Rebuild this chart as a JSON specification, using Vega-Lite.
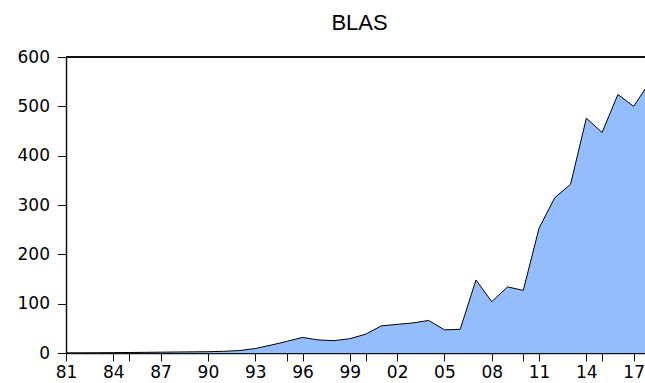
{
  "$schema": "https://vega.github.io/schema/vega-lite/v6.json",
  "autosize": {"type": "none"},
  "padding": {"left": 66, "top": 57, "right": 0, "bottom": 30},
  "width": 579,
  "height": 296,
  "background": "white",
  "title": {"text": "BLAS", "font": "Liberation Sans", "fontSize": 22, "fontWeight": "normal", "color": "black", "offset": 13, "dx": 4},
  "data": {"values": [
    {"year": 1981, "v": 0.2}, {"year": 1982, "v": 0.3}, {"year": 1983, "v": 0.5}, {"year": 1984, "v": 0.7},
    {"year": 1985, "v": 1.0}, {"year": 1986, "v": 1.3}, {"year": 1987, "v": 1.7}, {"year": 1988, "v": 2.0},
    {"year": 1989, "v": 2.3}, {"year": 1990, "v": 2.6}, {"year": 1991, "v": 3.4}, {"year": 1992, "v": 5},
    {"year": 1993, "v": 9}, {"year": 1994, "v": 16}, {"year": 1995, "v": 23.5}, {"year": 1996, "v": 31.6},
    {"year": 1997, "v": 26.5}, {"year": 1998, "v": 25}, {"year": 1999, "v": 29}, {"year": 2000, "v": 38},
    {"year": 2001, "v": 55}, {"year": 2002, "v": 58}, {"year": 2003, "v": 61}, {"year": 2004, "v": 66},
    {"year": 2005, "v": 47}, {"year": 2006, "v": 48}, {"year": 2007, "v": 148}, {"year": 2008, "v": 104},
    {"year": 2009, "v": 134}, {"year": 2010, "v": 127}, {"year": 2011, "v": 253}, {"year": 2012, "v": 315},
    {"year": 2013, "v": 342}, {"year": 2014, "v": 476}, {"year": 2015, "v": 447}, {"year": 2016, "v": 524},
    {"year": 2017, "v": 500}, {"year": 2018, "v": 548}
  ]},
  "encoding": {
    "x": {"field": "year", "type": "quantitative",
      "scale": {"domain": [1981, 2017.72], "nice": false, "zero": false},
      "axis": {"title": null, "grid": false,
        "values": [1981, 1984, 1985, 1987, 1990, 1993, 1995, 1996, 1999, 2000, 2002, 2005, 2008, 2010, 2011, 2014, 2015, 2017],
        "labelExpr": "(datum.value - 1981) % 3 == 0 ? substring(toString(datum.value), 2, 4) : ''",
        "tickSize": 8, "labelPadding": 3, "labelFlush": false, "labelOverlap": false,
        "labelFont": "DejaVu Sans", "labelFontSize": 17, "labelColor": "black",
        "domainColor": "#111", "tickColor": "#111", "domainWidth": 1.5, "tickWidth": 1}},
    "y": {"field": "v", "type": "quantitative",
      "scale": {"domain": [0, 600], "nice": false},
      "axis": {"title": null, "grid": false, "values": [0, 100, 200, 300, 400, 500, 600],
        "tickSize": 8.5, "labelPadding": 8,
        "labelFont": "DejaVu Sans", "labelFontSize": 17, "labelColor": "black",
        "domainColor": "#111", "tickColor": "#111", "domainWidth": 1.5, "tickWidth": 1}}
  },
  "layer": [
    {"mark": {"type": "area", "color": "#94bdfd", "clip": true}},
    {"mark": {"type": "line", "color": "black", "strokeWidth": 1, "clip": true}},
    {"mark": {"type": "rule", "color": "#111", "strokeWidth": 1.5}, "encoding": {"y": {"datum": 600}, "x": null}}
  ],
  "config": {"view": {"stroke": null}}
}
